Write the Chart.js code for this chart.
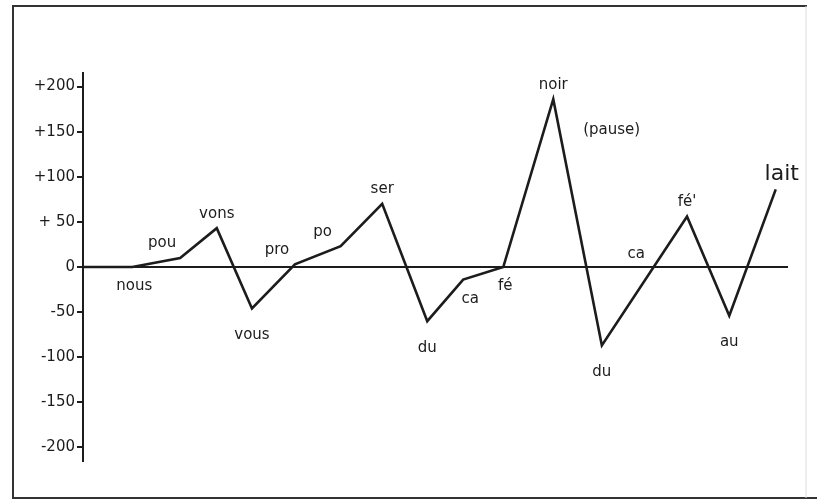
<!DOCTYPE html>
<html>
<head>
<meta charset="utf-8">
<title>Courbe de la phrase</title>
<script src="https://cdn.jsdelivr.net/npm/chart.js@4"></script>
<style>
  html, body { margin: 0; padding: 0; background: #fff; }
  #wrap { width: 817px; height: 502px; }
</style>
</head>
<body>
<div id="wrap"><canvas id="courbe" width="817" height="502"></canvas></div>
<script>
// syllables, read left to right along the curve
const syllables = ['', 'nous', 'pou', 'vons', 'vous', 'pro', 'po', 'ser', 'du', 'ca', 'fé', 'noir', 'du', 'fé\'', 'au', 'lait'];
// time of each syllable (0-100 along the axis)
const times = [0, 7, 13.8, 19, 24, 30.1, 36.6, 42.5, 48.9, 54, 59.7, 66.8, 73.7, 85.8, 91.8, 98.4];
// pitch deviation
const pitch = [0, 0, 10, 43, -46, 3, 23, 70, -60, -14, 0, 186, -87, 56, -54, 86];

// loose notes written on the sheet
const notes = ['(pause)', 'ca'];
const noteTimes = [75.1, 78.6];
const noteValues = [152, 14];

const yTicks = [-200, -150, -100, -50, 0, 50, 100, 150, 200];
const yTickLabels = ['-200', '-150', '-100', '-50', '0', '+ 50', '+100', '+150', '+200'];

const ink = '#1c1c1c';
const hand = '"DejaVu Sans", sans-serif';

const paperFrame = {
  id: 'paperFrame',
  beforeDraw(chart) {
    const ctx = chart.ctx;
    ctx.save();
    ctx.fillStyle = '#fff';
    ctx.fillRect(0, 0, chart.width, chart.height);
    ctx.strokeStyle = '#333';
    ctx.lineWidth = 2;
    ctx.beginPath();
    ctx.moveTo(807, 6);
    ctx.lineTo(13, 6);
    ctx.lineTo(13, 498);
    ctx.lineTo(817, 498);
    ctx.stroke();
    ctx.strokeStyle = '#ddd';
    ctx.lineWidth = 1;
    ctx.beginPath();
    ctx.moveTo(806, 6);
    ctx.lineTo(806, 498);
    ctx.stroke();
    ctx.restore();
  }
};

const syllableLabels = {
  id: 'syllableLabels',
  afterDatasetsDraw(chart) {
    const ctx = chart.ctx;
    const xs = chart.scales.x, ys = chart.scales.y;
    ctx.save();
    ctx.fillStyle = ink;
    ctx.textAlign = 'center';
    for (let i = 0; i < syllables.length; i++) {
      if (!syllables[i]) continue;
      const px = xs.getPixelForValue(times[i]);
      const py = ys.getPixelForValue(pitch[i]);
      const prev = i > 0 ? pitch[i - 1] : pitch[i];
      const next = i < pitch.length - 1 ? pitch[i + 1] : pitch[i];
      const peak = pitch[i] > prev && pitch[i] >= next;
      const trough = pitch[i] < prev && pitch[i] <= next;
      const above = pitch[i] > 1;
      const last = i === syllables.length - 1;
      ctx.font = (last ? '22px ' : '15px ') + hand;
      let dx = 0;
      if (!peak && !trough && !last) dx = above ? -18 : (pitch[i] < 0 ? 7 : 2);
      if (above) {
        ctx.textBaseline = 'bottom';
        ctx.fillText(syllables[i], px + dx + (last ? 6 : 0), py - (last ? 4 : 7));
      } else {
        ctx.textBaseline = 'top';
        ctx.fillText(syllables[i], px + dx, py + (trough ? 19 : 12));
      }
    }
    ctx.font = '15px ' + hand;
    ctx.textBaseline = 'middle';
    notes.forEach((n, k) => {
      ctx.fillText(n, xs.getPixelForValue(noteTimes[k]), ys.getPixelForValue(noteValues[k]));
    });
    ctx.restore();
  }
};

new Chart(document.getElementById('courbe'), {
  type: 'line',
  data: {
    labels: times,
    datasets: [{
      data: times.map((t, i) => ({ x: t, y: pitch[i] })),
      borderColor: ink,
      borderWidth: 2.6,
      pointRadius: 0,
      tension: 0,
      fill: false
    }]
  },
  options: {
    responsive: false,
    animation: false,
    layout: { padding: { left: 0, top: 73, right: 30, bottom: 41 } },
    plugins: { legend: { display: false }, tooltip: { enabled: false } },
    scales: {
      x: {
        type: 'linear',
        min: 0,
        max: 100,
        position: { y: 0 },
        grid: { display: false },
        ticks: { display: false },
        border: { display: true, color: ink, width: 2 }
      },
      y: {
        min: -215,
        max: 215,
        afterFit(scale) { scale.width = 83; },
        afterBuildTicks(scale) { scale.ticks = yTicks.map(v => ({ value: v })); },
        grid: { drawOnChartArea: false, tickLength: 6, color: ink, lineWidth: 2 },
        border: { display: true, color: ink, width: 2 },
        ticks: {
          padding: 2,
          color: ink,
          font: { family: 'DejaVu Sans', size: 15 },
          callback: (v) => yTickLabels[yTicks.indexOf(v)]
        }
      }
    }
  },
  plugins: [paperFrame, syllableLabels]
});
</script>
</body>
</html>
